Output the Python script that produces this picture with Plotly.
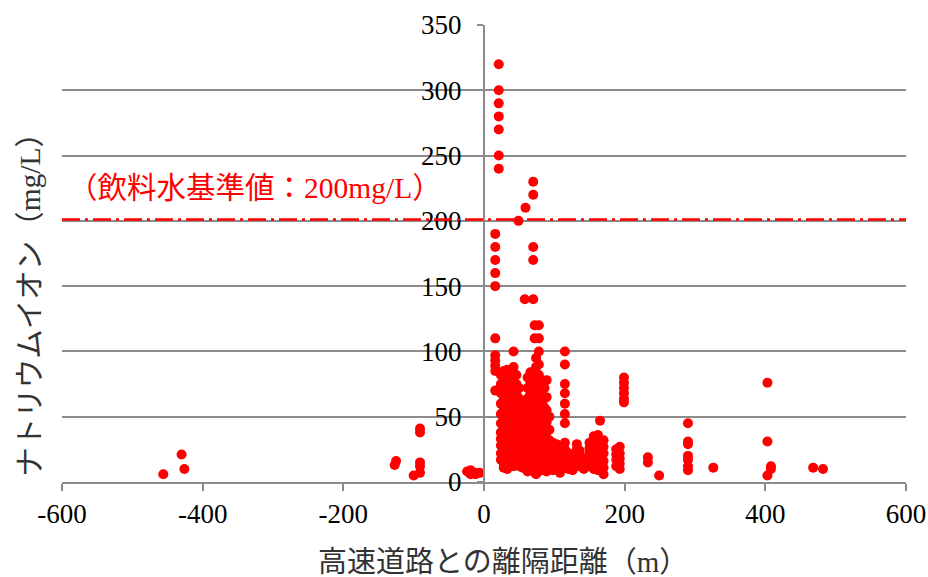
import plotly.graph_objects as go

# Distance from expressway (m) and sodium ion concentration (mg/L), grouped by well location
columns = [
    (-456, [6]), (-430, [21]), (-426, [10]), (-127, [13]), (-125, [16]), (-100, [5]),
    (-91, [41, 38, 15, 12, 7]), (-24, [8]), (-19, [6, 9]), (-12, [7, 6]), (-6, [7]),
    (21, [320, 300, 290, 280, 270, 250, 240]),
    (16, [190, 180, 170, 160, 150, 110, 97, 93, 89, 85, 70]),
    (49, [200]), (59, [210]), (70, [230, 220, 180, 170, 140]), (58, [140]),
    (72, [120, 110]), (78, [120, 110, 100]),
    (24, [82, 75, 68, 60, 52, 45, 38, 33, 28, 22, 17]),
    (28, [85, 78, 70, 63, 55, 48, 42, 36, 30, 25, 20, 14, 11]),
    (33, [86, 80, 72, 64, 57, 50, 44, 38, 32, 27, 22, 18, 13, 10]),
    (38, [84, 77, 70, 62, 56, 50, 45, 40, 34, 28, 24, 19, 15, 12]),
    (42, [100, 88, 80, 74, 66, 58, 52, 46, 40, 35, 30, 26, 21, 16, 12]),
    (46, [82, 75, 68, 60, 54, 48, 42, 37, 32, 27, 23, 18, 14]),
    (50, [72, 64, 56, 50, 44, 38, 33, 28, 24, 20, 16, 12]),
    (55, [60, 50, 42, 36, 30, 25, 20, 15, 11]),
    (62, [80, 72, 64, 56, 48, 40, 34, 28, 22, 17, 12, 8]),
    (66, [84, 76, 68, 60, 52, 45, 38, 32, 26, 20, 15, 10]),
    (70, [82, 75, 68, 62, 55, 48, 42, 36, 30, 24, 18, 13, 8]),
    (74, [95, 88, 80, 72, 65, 58, 50, 44, 38, 32, 26, 20, 15, 10, 6]),
    (78, [90, 82, 75, 68, 60, 52, 46, 40, 34, 28, 22, 17, 12, 8]),
    (82, [78, 70, 62, 55, 48, 42, 36, 30, 25, 20, 15, 10]),
    (86, [72, 64, 57, 50, 44, 38, 32, 26, 21, 16, 11]),
    (89, [78, 65, 55, 46, 38, 30, 24, 18, 13, 8]),
    (93, [50, 40, 32, 26, 20, 14, 10]),
    (98, [30, 25, 20, 16, 12, 9]),
    (103, [29, 24, 19, 14, 10]),
    (108, [26, 22, 18, 14, 10, 7]),
    (115, [100, 90, 75, 68, 60, 52, 45, 30, 25, 20, 15, 11]),
    (120, [22, 18, 14, 10]),
    (126, [20, 16, 12, 9]),
    (132, [29, 25, 21, 17, 13]),
    (136, [24, 20, 16, 12]),
    (142, [18, 14, 10]),
    (150, [30, 26, 22, 17, 12]),
    (156, [35, 30, 25, 20, 15, 10]),
    (162, [36, 33, 28, 22, 16, 9]),
    (165, [47, 30, 24, 18, 12]),
    (170, [32, 27, 22, 16, 11, 6]),
    (188, [25, 21, 17, 12]),
    (193, [27, 22, 18, 14, 10]),
    (199, [80, 76, 72, 68, 64, 61]),
    (233, [19, 15]), (249, [5]),
    (290, [45, 31, 29, 20, 17, 12, 9]),
    (326, [11]), (403, [76, 31, 5]), (408, [12, 10]),
    (468, [11]), (482, [10]),
]

distance = [x for x, ys in columns for _ in ys]
sodium = [y for _, ys in columns for y in ys]

standard = 201
x_ticks = [-600, -400, -200, 0, 200, 400, 600]
y_ticks = [0, 50, 100, 150, 200, 250, 300, 350]

serif = "Liberation Serif, Noto Sans CJK JP"
grey = "#8c8c8c"

fig = go.Figure()
fig.add_trace(go.Scatter(
    x=distance, y=sodium, mode="markers",
    marker=dict(color="#ff0000", size=10, line=dict(width=0)),
    hoverinfo="x+y", showlegend=False,
))

fig.add_shape(type="line", xref="x", yref="y", x0=-600, x1=600, y0=standard, y1=standard,
              line=dict(color="#ff0000", width=2.5, dash="18px,5px,3px,5px"))

fig.add_annotation(x=-326, y=225, xref="x", yref="y", text="（飲料水基準値：200mg/L）",
                   xanchor="center", yanchor="middle",
                   showarrow=False, font=dict(family=serif, size=29.5, color="#ff0000"))
fig.add_annotation(x=-0.038, y=0.405, xref="paper", yref="paper", text="ナトリウムイオン（mg/L）",
                   xanchor="center", yanchor="middle",
                   textangle=-90, showarrow=False, font=dict(family=serif, size=29.5, color="#333333"))
fig.add_annotation(x=0.5225, y=-0.174, xref="paper", yref="paper", text="高速道路との離隔距離（m）",
                   xanchor="center", yanchor="middle",
                   showarrow=False, font=dict(family=serif, size=29, color="#333333"))

fig.update_layout(
    width=928, height=577,
    margin=dict(l=62, r=22, t=25, b=95),
    plot_bgcolor="white", paper_bgcolor="white",
    font=dict(family=serif, size=27, color="black"),
    xaxis=dict(range=[-600, 600], tickvals=x_ticks, ticktext=[str(v) for v in x_ticks],
               showgrid=False, zeroline=False, showline=True, linecolor=grey, linewidth=2,
               ticks="outside", ticklen=7, tickwidth=2, tickcolor=grey, automargin=False,
               tickfont=dict(family=serif, size=27, color="black")),
    yaxis=dict(range=[0, 350], tickvals=y_ticks, showgrid=True, gridcolor=grey, gridwidth=2,
               zeroline=False, showline=True, linecolor=grey, linewidth=2, automargin=False,
               anchor="free", position=0.5, ticks="outside", ticklen=6, tickwidth=2, tickcolor=grey,
               ticklabelstandoff=10,
               tickfont=dict(family=serif, size=27, color="black")),
)

fig.write_html("out.html", config={"displayModeBar": False},
               post_script="document.body.style.margin='0';document.body.style.overflow='hidden';")
